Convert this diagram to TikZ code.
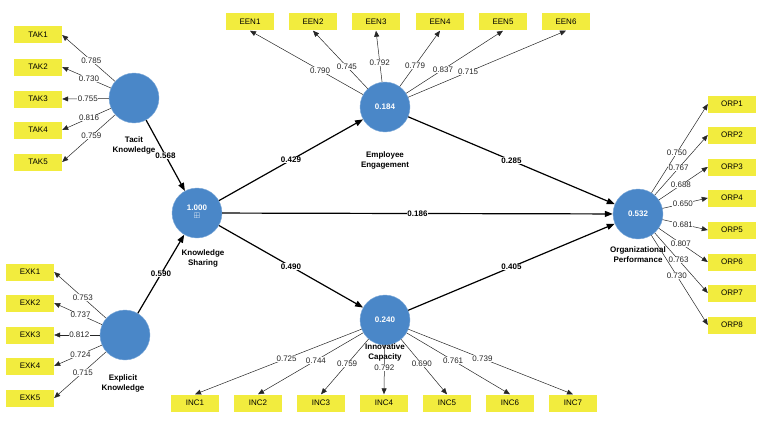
\documentclass[tikz,border=0pt]{standalone}
\usepackage{amssymb}
\usepackage{fontspec}
\setmainfont{Liberation Sans}
\usetikzlibrary{arrows.meta}
\definecolor{lv}{HTML}{4A87C8}
\definecolor{mv}{HTML}{F2EC3E}
\begin{document}
\begin{tikzpicture}[x=1pt,y=-1pt,
 lat/.style={circle,fill=lv,draw=lv!70!white,minimum size=50pt,inner sep=0pt,text=white,font=\fontsize{8}{9}\selectfont\bfseries},
 ind/.style={rectangle,fill=mv,minimum width=48pt,minimum height=17pt,inner sep=0pt,font=\fontsize{8}{9}\selectfont},
 lab/.style={font=\fontsize{8}{10}\selectfont\bfseries,align=center},
 ld/.style={-{Triangle[length=6pt,width=5pt]},black!85,line width=0.5pt},
 pth/.style={-{Triangle[length=8pt,width=6pt]},black,line width=1.2pt},
 num/.style={fill=white,inner sep=0.5pt,font=\fontsize{8}{9}\selectfont},
 pnum/.style={fill=white,inner sep=0.5pt,font=\fontsize{8}{9}\selectfont\bfseries}]
\useasboundingbox (0,0) rectangle (767,420);
\node[lat] (TK) at (134,98) {};
\node[lat] (KS) at (197,213) {\begin{tabular}{c}1.000\\[-1pt]$\boxplus$\end{tabular}};
\node[lat] (EK) at (125,335) {};
\node[lat] (EE) at (385,107) {0.184};
\node[lat] (IC) at (385,320) {0.240};
\node[lat] (OP) at (638,214) {0.532};
\node[lab] at (134,145) {Tacit\\Knowledge};
\node[lab] at (203,258) {Knowledge\\Sharing};
\node[lab] at (123,383) {Explicit\\Knowledge};
\node[lab] at (385,160) {Employee\\Engagement};
\node[lab] at (385,352) {Innovative\\Capacity};
\node[lab] at (638,255) {Organizational\\Performance};
% indicators
\foreach \i/\y/\v in {1/35/0.785,2/67/0.730,3/99/0.755,4/130/0.816,5/162/0.759}{
 \node[ind] (TAK\i) at (38,\y) {TAK\i};
 \draw[ld] (TK) -- node[num,pos=0.45]{\v} (TAK\i.east);}
\foreach \i/\y/\v in {1/272/0.753,2/303/0.737,3/335/0.812,4/366/0.724,5/398/0.715}{
 \node[ind] (EXK\i) at (30,\y) {EXK\i};
 \draw[ld] (EK) -- node[num,pos=0.45]{\v} (EXK\i.east);}
\foreach \i/\x/\v in {1/250/0.790,2/313/0.745,3/376/0.792,4/440/0.779,5/503/0.837,6/566/0.715}{
 \node[ind] (EEN\i) at (\x,22) {EEN\i};
 \draw[ld] (EE) -- node[num,pos=0.38]{\v} (EEN\i.south);}
\foreach \i/\x/\v in {1/195/0.725,2/258/0.744,3/321/0.759,4/384/0.792,5/447/0.690,6/510/0.761,7/573/0.739}{
 \node[ind] (INC\i) at (\x,403) {INC\i};
 \draw[ld] (IC) -- node[num,pos=0.45]{\v} (INC\i.north);}
\foreach \i/\y/\v in {1/104/0.750,2/135/0.767,3/167/0.688,4/198/0.650,5/230/0.681,6/262/0.807,7/293/0.763,8/325/0.730}{
 \node[ind] (ORP\i) at (732,\y) {ORP\i};
 \draw[ld] (OP) -- node[num,pos=0.45]{\v} (ORP\i.west);}
% paths
\draw[pth] (TK) -- node[pnum]{0.568} (KS);
\draw[pth] (EK) -- node[pnum]{0.590} (KS);
\draw[pth] (KS) -- node[pnum]{0.429} (EE);
\draw[pth] (KS) -- node[pnum]{0.490} (IC);
\draw[pth] (KS) -- node[pnum]{0.186} (OP);
\draw[pth] (EE) -- node[pnum]{0.285} (OP);
\draw[pth] (IC) -- node[pnum]{0.405} (OP);
\end{tikzpicture}
\end{document}
